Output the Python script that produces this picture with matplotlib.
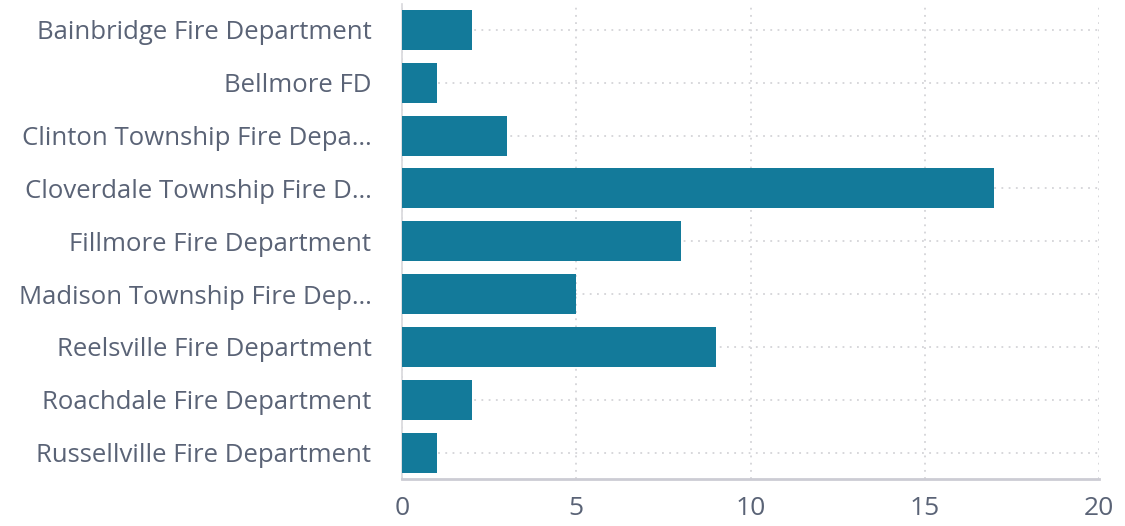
import matplotlib
matplotlib.use("Agg")
import matplotlib.pyplot as plt

plt.rcParams['font.family'] = ['Open Sans', 'DejaVu Sans']

departments = [
    "Bainbridge Fire Department",
    "Bellmore FD",
    "Clinton Township Fire Depa\u2026",
    "Cloverdale Township Fire D\u2026",
    "Fillmore Fire Department",
    "Madison Township Fire Dep\u2026",
    "Reelsville Fire Department",
    "Roachdale Fire Department",
    "Russellville Fire Department",
]
counts = [2, 1, 3, 17, 8, 5, 9, 2, 1]
x_ticks = [0, 5, 10, 15, 20]

bar_color = "#137a9a"
text_color = "#5a6376"
grid_color = "#d4d4d8"

fig = plt.figure(figsize=(11.25, 5.26), dpi=100)
ax = fig.add_axes([402 / 1125, 47 / 526, 697 / 1125, 475.5 / 526])

pos = list(range(len(departments)))
ax.barh(pos, counts, height=0.76, color=bar_color, zorder=3)

ax.set_ylim(len(departments) - 0.5, -0.5)
ax.set_xlim(0, 20)
ax.set_xticks(x_ticks)
ax.set_yticks(pos)
ax.set_yticklabels(departments)

ax.grid(True, color=grid_color, linestyle=(0, (1, 3)), linewidth=1.3, zorder=0)
for side in ["top", "right"]:
    ax.spines[side].set_visible(False)
ax.spines["left"].set_color("#d8d8dc")
ax.spines["left"].set_linewidth(1.2)
ax.spines["bottom"].set_color("#ccccd4")
ax.spines["bottom"].set_linewidth(2)

ax.tick_params(axis="y", length=0, pad=22, labelsize=18.5, labelcolor=text_color)
ax.tick_params(axis="x", length=0, pad=12, labelsize=19, labelcolor=text_color)
for lbl in ax.get_yticklabels():
    lbl.set_va("center_baseline")

fig.savefig("out.png", dpi=100)
